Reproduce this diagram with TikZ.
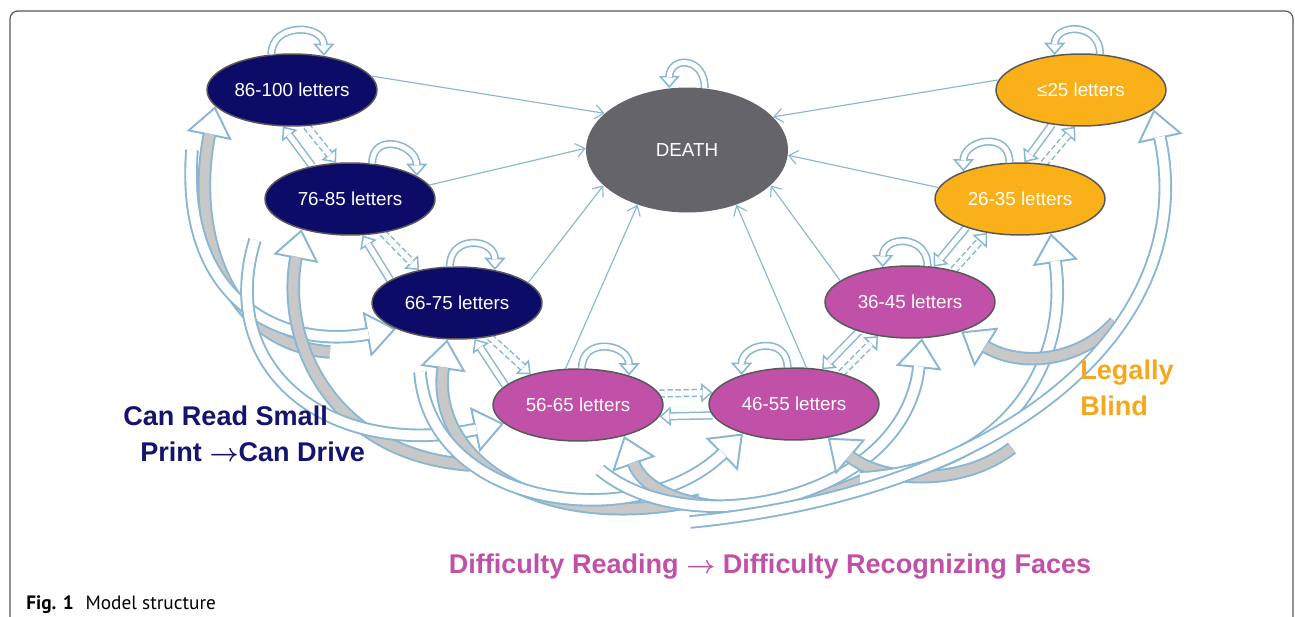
\documentclass[tikz,border=0pt]{standalone}
\usepackage{fontspec}
\setmainfont{Liberation Sans}
\newfontfamily\captionfont{PT Sans}
\usetikzlibrary{arrows.meta, shapes.geometric, backgrounds}
\definecolor{goodcolor}{RGB}{12, 12, 104}
\definecolor{midcolor}{RGB}{193, 80, 168}
\definecolor{poorcolor}{RGB}{250, 176, 24}
\definecolor{deathcolor}{RGB}{100, 100, 106}
\definecolor{rimcolor}{RGB}{88, 88, 88}
\definecolor{flowcolor}{RGB}{137, 182, 210}
\definecolor{backcolor}{RGB}{200, 200, 200}
\definecolor{drivecolor}{RGB}{20, 20, 110}
\definecolor{blindcolor}{RGB}{245, 168, 30}
\newcommand{\thenarrow}{{\boldmath$\rightarrow$}}

\begin{document}
\begin{tikzpicture}[x=0.02cm, y=-0.02cm, line join=round,
  state/.style={ellipse, draw=rimcolor, line width=0.85pt, minimum width=3.4cm,
    minimum height=1.44cm, inner sep=0pt, text=white,
    font=\fontsize{10.7}{12.8}\selectfont},
  todeath/.style={draw=flowcolor, line width=0.65pt,
    -{Straight Barb[length=5pt, width=8pt]}},
  loopflow/.style={draw=flowcolor, line width=0.9pt,
    -{Triangle[length=7pt, width=12pt, fill=white]},
    postaction={draw=flowcolor, double=white, double distance=2.8pt,
      line width=0.9pt, arrows=-, shorten >=6.2pt}},
  better/.style={draw=flowcolor, line width=0.85pt,
    -{Triangle[length=6.5pt, width=11pt, fill=white]},
    postaction={draw=flowcolor, double=white, double distance=3pt,
      line width=0.85pt, arrows=-, shorten >=5.8pt}},
  worse/.style={draw=white, line width=0.85pt,
    -{Triangle[length=6.5pt, width=11pt, fill=white, color=flowcolor]},
    postaction={draw=flowcolor, double=white, double distance=3pt,
      line width=0.85pt, arrows=-, shorten >=5.8pt, dash pattern=on 3pt off 1.6pt}},
  jump/.style={draw=flowcolor, line width=1.1pt,
    -{Triangle[length=17pt, width=26pt, fill=white]},
    postaction={draw=flowcolor, double=#1, double distance=5.5pt,
      line width=1.1pt, arrows=-, shorten >=16pt}},
  jump/.default=white,
  label/.style={inner sep=0pt, font=\bfseries\fontsize{15.4}{18}\selectfont}]

  \useasboundingbox (0, 0) rectangle (1295, 617);

  % frame
  \draw[rimcolor, line width=0.7pt, rounded corners=4.5pt]
    (10, 617) -- (10, 11) -- (1293, 11) -- (1293, 617);

  % acuity states
  \node[state, fill=goodcolor] (n86) at (292, 90) {86-100 letters};
  \node[state, fill=goodcolor] (n76) at (350, 199) {76-85 letters};
  \node[state, fill=goodcolor] (n66) at (457, 303) {66-75 letters};
  \node[state, fill=midcolor] (n56) at (578, 405) {56-65 letters};
  \node[state, fill=midcolor] (n46) at (794, 404) {46-55 letters};
  \node[state, fill=midcolor] (n36) at (910, 302) {36-45 letters};
  \node[state, fill=poorcolor] (n26) at (1020, 199) {26-35 letters};
  \node[state, fill=poorcolor] (n25) at (1081, 90) {≤25 letters};
  \node[ellipse, fill=deathcolor, minimum width=4.04cm, minimum height=2.5cm,
    inner sep=0pt, text=white, font=\fontsize{10.7}{12.8}\selectfont]
    (death) at (687, 150) {DEATH};

  \begin{scope}[on background layer]
    % two-step jumps
    \coordinate (t1) at (330, 352);
    \draw[jump=backcolor] (t1) .. controls (225, 345) and (190, 230) .. (n86.192);
    \coordinate (t2) at (192, 150);
    \draw[jump] (t2) .. controls (180, 300) and (280, 350) .. (n66.203);
    \coordinate (t3) at (470, 465);
    \draw[jump=backcolor] (t3) .. controls (330, 455) and (280, 340) .. (n76.212);
    \coordinate (t4) at (255, 240);
    \draw[jump] (t4) .. controls (215, 370) and (330, 460) .. (n56.194);
    \coordinate (t5) at (700, 500);
    \draw[jump=backcolor] (t5) .. controls (540, 535) and (430, 460) .. (n66.255);
    \coordinate (t6) at (420, 372);
    \draw[jump] (t6) .. controls (430, 510) and (640, 535) .. (n46.210);
    \coordinate (t7) at (880, 472);
    \draw[jump=backcolor] (t7) .. controls (770, 530) and (650, 510) .. (n56.326);
    \coordinate (t8) at (600, 470);
    \draw[jump] (t8) .. controls (690, 545) and (905, 500) .. (n36.288);
    \coordinate (t9) at (1012, 448);
    \draw[jump=backcolor] (t9) .. controls (960, 488) and (880, 482) .. (n46.315);
    \coordinate (t10) at (860, 478);
    \draw[jump] (t10) .. controls (1010, 470) and (1070, 360) .. (n26.312);
    \coordinate (t11) at (1115, 322);
    \draw[jump=backcolor] (t11) .. controls (1080, 362) and (1020, 368) .. (n36.330);
    \coordinate (t12) at (690, 522);
    \draw[jump] (t12) .. controls (1020, 490) and (1200, 320) .. (n25.345);

    % one-step moves
    \draw[better] (n76.139) -- (n86.256);
    \draw[worse] (n86.292) -- (n76.111);
    \draw[better] (n66.161) -- (n76.289);
    \draw[worse] (n76.314) -- (n66.139);
    \draw[better] (n56.165) -- (n66.296);
    \draw[worse] (n66.314) -- (n56.147);
    \draw[worse] (n56.8) -- (n46.172);
    \draw[better] (n46.188) -- (n56.352);
    \draw[better] (n36.210) -- (n46.51);
    \draw[worse] (n46.33) -- (n36.227);
    \draw[better] (n26.208) -- (n36.56);
    \draw[worse] (n36.36) -- (n26.226);
    \draw[better] (n25.230) -- (n26.83);
    \draw[worse] (n26.56) -- (n25.261);
  \end{scope}

  % staying put
  \draw[loopflow] (n86.120) .. controls +(0, -32) and +(0, -32) .. (n86.47);
  \draw[loopflow] (n76.58) .. controls +(0, -32) and +(0, -32) .. (n76.19);
  \draw[loopflow] (n66.101) .. controls +(0, -32) and +(0, -32) .. (n66.41);
  \draw[loopflow] (n56.84) .. controls +(0, -32) and +(0, -32) .. (n56.30);
  \draw[loopflow] (n46.100) .. controls +(0, -32) and +(0, -32) .. (n46.151);
  \draw[loopflow] (n36.64) .. controls +(0, -32) and +(0, -32) .. (n36.128);
  \draw[loopflow] (n26.106) .. controls +(0, -32) and +(0, -32) .. (n26.154);
  \draw[loopflow] (n25.62) .. controls +(0, -32) and +(0, -32) .. (n25.127);
  \draw[loopflow] (death.74) .. controls +(0, -32) and +(0, -32) .. (death.106);

  % mortality
  \draw[todeath] (n86.10) -- (death.156);
  \draw[todeath] (n76.10) -- (death.179);
  \draw[todeath] (n66.16) -- (death.203);
  \draw[todeath] (n56.109) -- (death.228);
  \draw[todeath] (n46.71) -- (death.312);
  \draw[todeath] (n36.163) -- (death.337);
  \draw[todeath] (n26.172) -- (death.357);
  \draw[todeath] (n25.173) -- (death.21);

  % group labels
  \node[label, text=drivecolor, anchor=base west] (drive1) at (123, 426) {Can Read Small};
  \node[label, text=drivecolor, anchor=base west] (drive2) at (140, 462)
    {Print \thenarrow Can Drive};
  \node[label, text=blindcolor, anchor=base west] (blind1) at (1080, 380) {Legally};
  \node[label, text=blindcolor, anchor=base west] (blind2) at (1080, 416) {Blind};
  \node[label, text=midcolor, anchor=base] (faces) at (770, 574)
    {Difficulty Reading \thenarrow{} Difficulty Recognizing Faces};

  % caption
  \node[inner sep=0pt, anchor=base west, font=\captionfont\fontsize{11}{13}\selectfont]
    (caption) at (26, 610) {\textbf{Fig. 1}\hspace{0.6em}Model structure};
\end{tikzpicture}
\end{document}
